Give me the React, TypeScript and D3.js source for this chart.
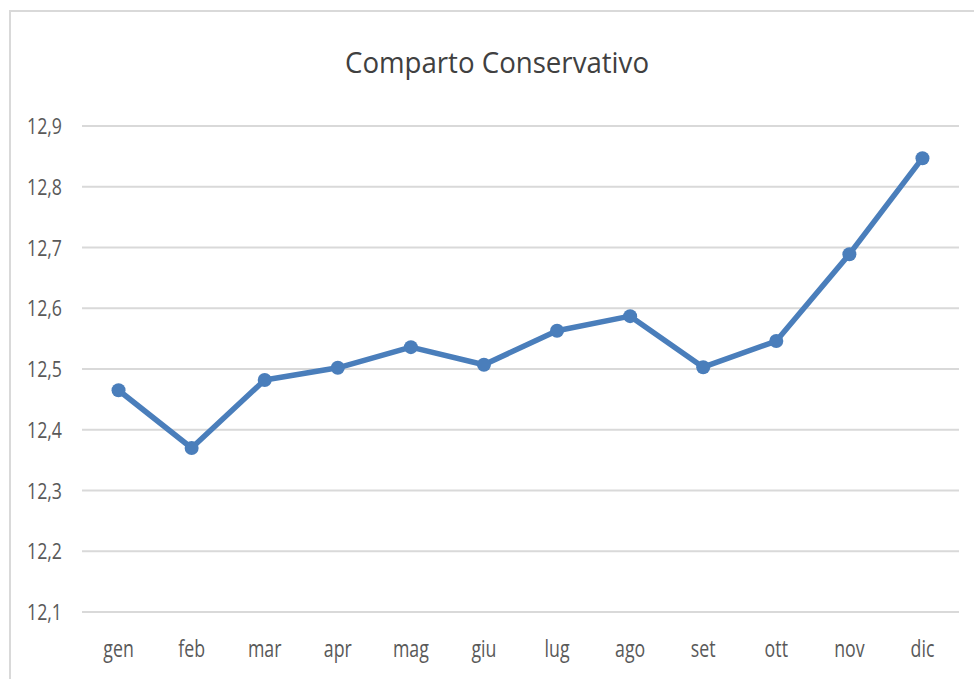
import React from "react";
import * as d3 from "d3";

const months = ["gen", "feb", "mar", "apr", "mag", "giu", "lug", "ago", "set", "ott", "nov", "dic"];
const values = [12.465, 12.37, 12.482, 12.502, 12.536, 12.507, 12.563, 12.587, 12.503, 12.546, 12.689, 12.847];
const yTicks = [12.1, 12.2, 12.3, 12.4, 12.5, 12.6, 12.7, 12.8, 12.9];
const title = "Comparto Conservativo";

const W = 974;
const H = 679;
const FONT = "'Open Sans', 'DejaVu Sans', sans-serif";

export default function App() {
  const x = d3.scaleBand<string>().domain(months).range([82, 959]);
  const y = d3.scaleLinear().domain([12.1, 12.9]).range([612, 126]);
  const cx = (m: string) => (x(m) as number) + x.bandwidth() / 2;
  const line = d3
    .line<number>()
    .x((_, i) => cx(months[i]))
    .y((d) => y(d));
  const fmt = (v: number) => v.toFixed(1).replace(".", ",");

  return (
    <svg
      width={W}
      height={H}
      style={{ position: "absolute", left: 0, top: 0, background: "#fff" }}
    >
      <rect x={0} y={0} width={W} height={H} fill="#fff" />
      <rect x={10} y={11} width={W + 20} height={H + 20} fill="#fff" stroke="#d9d9d9" strokeWidth={2} />
      <text
        x={497}
        y={73}
        textAnchor="middle"
        fontFamily={FONT}
        fontSize={30}
        fill="#404040"
        textLength={304}
        lengthAdjust="spacingAndGlyphs"
      >
        {title}
      </text>
      {yTicks.map((t) => (
        <g key={t}>
          <line x1={82} x2={959} y1={y(t)} y2={y(t)} stroke="#d9d9d9" strokeWidth={2} />
          <text
            x={62}
            y={y(t) + 8}
            textAnchor="end"
            fontFamily={FONT}
            fontSize={22}
            fill="#595959"
            textLength={35}
            lengthAdjust="spacingAndGlyphs"
          >
            {fmt(t)}
          </text>
        </g>
      ))}
      {months.map((m) => (
        <text
          key={m}
          transform={`translate(${cx(m)},657) scale(0.74,1)`}
          textAnchor="middle"
          fontFamily={FONT}
          fontSize={24}
          fill="#595959"
        >
          {m}
        </text>
      ))}
      <path d={line(values) || ""} fill="none" stroke="#4a7ebb" strokeWidth={5.5} strokeLinejoin="round" />
      {values.map((v, i) => (
        <circle key={i} cx={cx(months[i])} cy={y(v)} r={7} fill="#4a7ebb" />
      ))}
    </svg>
  );
}
